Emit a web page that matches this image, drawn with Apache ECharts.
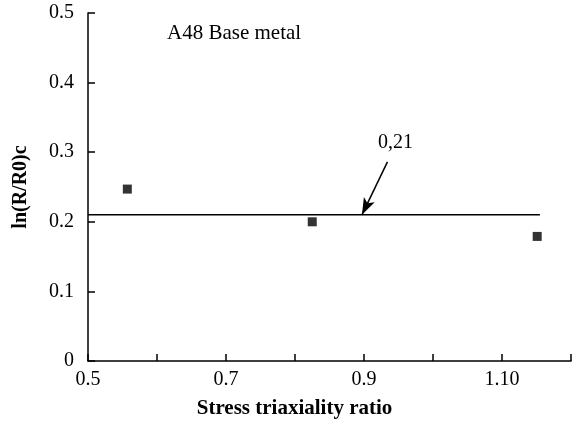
<!DOCTYPE html>
<html><head><meta charset="utf-8">
<script src="https://cdn.jsdelivr.net/npm/echarts@6/dist/echarts.min.js"></script>
<style>html,body{margin:0;padding:0;background:#fff}#c{width:581px;height:424px}</style>
</head><body><div id="c"></div>
<script>
const triaxiality = [0.557, 0.825, 1.151];
const lnRatio = [0.247, 0.200, 0.179];
const criticalValue = 0.21;
const criticalLineX = [0.5, 1.155];
const arrowFrom = [0.934, 0.286];
const arrowTo = [0.897, 0.21];
const xTickLabels = {5: '0.5', 7: '0.7', 9: '0.9', 11: '1.10'};
const yTickLabels = ['0', '0.1', '0.2', '0.3', '0.4', '0.5'];

const font = '"Liberation Serif", "DejaVu Serif", serif';
const chart = echarts.init(document.getElementById('c'));
chart.setOption({
  animation: false,
  backgroundColor: '#fff',
  grid: {left: 88, right: 10, top: 13, bottom: 61, containLabel: false},
  xAxis: {
    type: 'value', min: 0.5, max: 1.2, interval: 0.1,
    name: 'Stress triaxiality ratio', nameLocation: 'middle', nameGap: 37,
    nameTextStyle: {fontFamily: font, fontWeight: 'bold', fontSize: 21, color: '#000', padding: [0, 70, 0, 0]},
    axisLine: {show: true, lineStyle: {color: '#000', width: 1.5}},
    axisTick: {show: true, inside: true, length: 7, lineStyle: {color: '#000', width: 1.5}},
    axisLabel: {fontFamily: font, fontSize: 20, color: '#000', margin: 9, showMaxLabel: true,
      formatter: v => xTickLabels[Math.round(v * 10)] || ''},
    splitLine: {show: false}
  },
  yAxis: {
    type: 'value', min: 0, max: 0.5, interval: 0.1,
    name: 'ln(R/R0)c', nameLocation: 'middle', nameGap: 57,
    nameTextStyle: {fontFamily: font, fontWeight: 'bold', fontSize: 20, color: '#000'},
    axisLine: {show: true, lineStyle: {color: '#000', width: 1.5}},
    axisTick: {show: true, inside: true, length: 7, lineStyle: {color: '#000', width: 1.5}},
    axisLabel: {fontFamily: font, fontSize: 20, color: '#000', margin: 14,
      formatter: v => yTickLabels[Math.round(v * 10)]},
    splitLine: {show: false}
  },
  series: [
    {
      type: 'line', data: criticalLineX.map(x => [x, criticalValue]),
      symbol: 'none', lineStyle: {color: '#000', width: 1.5}, silent: true,
      markLine: {
        silent: true, symbol: ['none', 'arrow'], symbolSize: [9, 17],
        lineStyle: {color: '#000', width: 1.5, type: 'solid'},
        label: {show: false},
        data: [[{coord: arrowFrom}, {coord: arrowTo}]]
      }
    },
    {
      type: 'scatter', data: triaxiality.map((x, i) => [x, lnRatio[i]]),
      symbol: 'rect', symbolSize: 9, itemStyle: {color: '#000'}
    }
  ],
  graphic: [
    {type: 'text', left: 167, top: 23, style: {text: 'A48 Base metal', font: '21px ' + font, fill: '#000'}},
    {type: 'text', left: 378, top: 133, style: {text: '0,21', font: '20px ' + font, fill: '#000'}}
  ]
});
</script></body></html>
